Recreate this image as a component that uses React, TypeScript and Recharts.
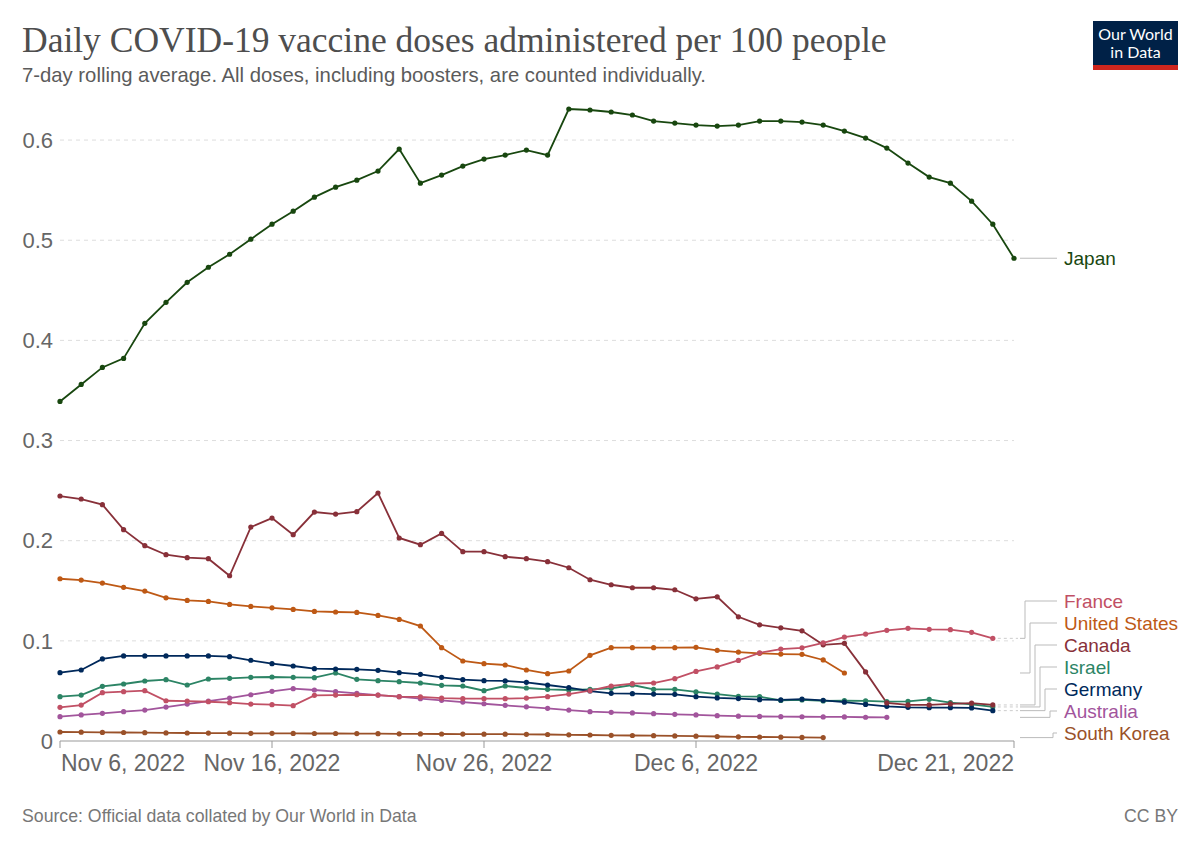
import React from 'react';
import { LineChart, Line, XAxis, YAxis, CartesianGrid } from 'recharts';

const W = 1200;
const H = 847;
const PLOT_RIGHT = 1014;

// days since Nov 6, 2022
const tickDays = [0, 10, 20, 30, 45];
const tickLabels = ['Nov 6, 2022', 'Nov 16, 2022', 'Nov 26, 2022', 'Dec 6, 2022', 'Dec 21, 2022'];
const yTicks = [0, 0.1, 0.2, 0.3, 0.4, 0.5, 0.6];
const gridValues = [0.1, 0.2, 0.3, 0.4, 0.5, 0.6];

const japan = [
  0.339, 0.356, 0.373, 0.382, 0.417, 0.438, 0.458, 0.473, 0.486, 0.501,
  0.516, 0.529, 0.543, 0.553, 0.56, 0.569, 0.591, 0.557, 0.565, 0.574,
  0.581, 0.585, 0.59, 0.585, 0.631, 0.63, 0.628, 0.625, 0.619, 0.617,
  0.615, 0.614, 0.615, 0.619, 0.619, 0.618, 0.615, 0.609, 0.602, 0.592,
  0.577, 0.563, 0.557, 0.539, 0.516, 0.482,
];
const canada = [
  0.2446, 0.2416, 0.236, 0.211, 0.195, 0.186, 0.183, 0.182, 0.165, 0.2136,
  0.2226, 0.206, 0.2286, 0.2266, 0.229, 0.2476, 0.2027, 0.196, 0.2073, 0.189,
  0.189, 0.184, 0.182, 0.179, 0.173, 0.161, 0.156, 0.153, 0.153, 0.151,
  0.142, 0.144, 0.124, 0.116, 0.113, 0.11, 0.096, 0.0975, 0.069, 0.038,
  0.036, 0.036, 0.037, 0.0378, 0.036,
];
const unitedStates = [
  0.162, 0.1607, 0.1577, 0.1534, 0.1497, 0.143, 0.1404, 0.1394, 0.1364, 0.1344,
  0.133, 0.1314, 0.1294, 0.1288, 0.1284, 0.1254, 0.1214, 0.1148, 0.0932, 0.0799,
  0.0772, 0.0759, 0.0709, 0.0672, 0.0699, 0.0855, 0.0932, 0.0932, 0.0932, 0.0932,
  0.0935, 0.0905, 0.0888, 0.0875, 0.0868, 0.0865, 0.0809, 0.0679,
];
const france = [
  0.0336, 0.0359, 0.0482, 0.0492, 0.0502, 0.0402, 0.0399, 0.0392, 0.0383, 0.0369,
  0.0363, 0.0353, 0.0456, 0.0459, 0.0462, 0.0459, 0.0443, 0.044, 0.0429, 0.0423,
  0.0423, 0.0423, 0.0429, 0.0443, 0.0469, 0.0502, 0.0549, 0.0572, 0.0579, 0.0622,
  0.0695, 0.074, 0.0804, 0.088, 0.0918, 0.093, 0.098, 0.1038, 0.1068, 0.1105,
  0.1125, 0.1115, 0.1112, 0.1085, 0.1025,
];
const israel = [
  0.0443, 0.0459, 0.0546, 0.0569, 0.0599, 0.0612, 0.0559, 0.0619, 0.0626, 0.0636,
  0.0639, 0.0636, 0.0632, 0.0679, 0.0616, 0.0602, 0.0592, 0.0579, 0.0556, 0.0549,
  0.0502, 0.0549, 0.0529, 0.0516, 0.0509, 0.0516, 0.0526, 0.0559, 0.0516, 0.0516,
  0.049, 0.0469, 0.0446, 0.0443, 0.0405, 0.041, 0.04, 0.0403, 0.04, 0.0393,
  0.0396, 0.0416, 0.0383, 0.0365, 0.034,
];
const germany = [
  0.0682, 0.0709, 0.0819, 0.0849, 0.0849, 0.0849, 0.0849, 0.0849, 0.0842, 0.0806,
  0.0772, 0.0749, 0.0722, 0.0719, 0.0716, 0.0706, 0.0682, 0.0666, 0.0636, 0.0612,
  0.0602, 0.06, 0.0586, 0.0559, 0.0532, 0.0499, 0.0476, 0.0473, 0.0469, 0.0466,
  0.0443, 0.043, 0.0424, 0.0413, 0.041, 0.0418, 0.0406, 0.0388, 0.0365, 0.0346,
  0.0336, 0.0333, 0.0333, 0.033, 0.0303,
];
const australia = [
  0.0243, 0.026, 0.0276, 0.0293, 0.0309, 0.0339, 0.0369, 0.0399, 0.0429, 0.0462,
  0.0496, 0.0522, 0.0509, 0.0492, 0.0476, 0.0459, 0.0443, 0.0423, 0.0406, 0.0389,
  0.0372, 0.0356, 0.0341, 0.0326, 0.0309, 0.0293, 0.0286, 0.028, 0.0273, 0.0266,
  0.026, 0.0253, 0.0248, 0.0245, 0.0243, 0.0242, 0.024, 0.024, 0.0237, 0.0236,
];
const southKorea = [
  0.009, 0.0088, 0.0086, 0.0085, 0.0083, 0.0081, 0.008, 0.0079, 0.0078, 0.0077,
  0.0077, 0.0076, 0.0075, 0.0075, 0.0074, 0.0073, 0.0072, 0.0071, 0.007, 0.0069,
  0.0068, 0.0068, 0.0067, 0.0065, 0.0062, 0.006, 0.0057, 0.0055, 0.0053, 0.0051,
  0.0048, 0.0045, 0.0042, 0.004, 0.0038, 0.0036, 0.0034,
];

// drawn bottom to top
const series = [
  { key: 'southKorea', name: 'South Korea', color: '#9A5129', values: southKorea },
  { key: 'australia', name: 'Australia', color: '#A2559C', values: australia },
  { key: 'israel', name: 'Israel', color: '#2C8465', values: israel },
  { key: 'germany', name: 'Germany', color: '#00295B', values: germany },
  { key: 'canada', name: 'Canada', color: '#883039', values: canada },
  { key: 'unitedStates', name: 'United States', color: '#BE5915', values: unitedStates },
  { key: 'france', name: 'France', color: '#C15065', values: france },
  { key: 'japan', name: 'Japan', color: '#18470F', values: japan },
];

// where the end labels of the crowded group sit
const labelSlots = {
  france: { y: 601, elbow: 11 },
  unitedStates: { y: 623, elbow: 16 },
  canada: { y: 645, elbow: 21 },
  israel: { y: 667, elbow: 26 },
  germany: { y: 689, elbow: 31 },
  australia: { y: 711, elbow: 36 },
  southKorea: { y: 733, elbow: 39 },
};

const rows = japan.map((_, i) => {
  const row = { i };
  series.forEach(s => {
    row[s.key] = i < s.values.length ? s.values[i] : null;
  });
  return row;
});

const XTick = (props) => {
  const { x, y, payload } = props;
  const v = payload.value;
  const anchor = v === 0 ? 'start' : v === 45 ? 'end' : 'middle';
  const label = tickLabels[tickDays.indexOf(v)];
  return (
    <text x={v === 0 ? x + 1 : x} y={y} dy={21} textAnchor={anchor} fill="#666" fontSize={23}>
      {label}
    </text>
  );
};

function endLabel(s, cx, cy) {
  const slot = labelSlots[s.key];
  if (!slot) {
    return (
      <g>
        <line x1={PLOT_RIGHT + 6} x2={PLOT_RIGHT + 43} y1={cy} y2={cy} stroke="#bbb" />
        <text x={PLOT_RIGHT + 50} y={cy} dy="0.35em" fill={s.color} fontSize={19}>{s.name}</text>
      </g>
    );
  }
  const trail = s.values.length === 45;
  return (
    <g>
      {trail && (
        <line x1={cx + 5} x2={PLOT_RIGHT + 4} y1={cy} y2={cy} stroke="#ccc" strokeDasharray="3 3" />
      )}
      <path
        d={`M${PLOT_RIGHT + 6},${cy}H${PLOT_RIGHT + slot.elbow}V${slot.y}H${PLOT_RIGHT + 43}`}
        fill="none"
        stroke="#bbb"
      />
      <text x={PLOT_RIGHT + 50} y={slot.y} dy="0.35em" fill={s.color} fontSize={19}>{s.name}</text>
    </g>
  );
}

const makeDot = (s) => (props) => {
  const { cx, cy, index } = props;
  if (cx == null || cy == null || props.value == null) return <g key={`${s.key}-${index}`} />;
  return (
    <g key={`${s.key}-${index}`}>
      <circle cx={cx} cy={cy} r={2.6} fill={s.color} />
      {index === s.values.length - 1 && endLabel(s, cx, cy)}
    </g>
  );
};

export default function App() {
  return (
    <div
      style={{
        position: 'absolute',
        left: 0,
        top: 0,
        width: W,
        height: H,
        background: '#fff',
        fontFamily: '"Liberation Sans", Arial, sans-serif',
      }}
    >
      <svg width={W} height={H} style={{ position: 'absolute', left: 0, top: 0 }}>
        <text x={22} y={52} fill="#4e4e4e" fontSize={35.5} fontFamily='"Liberation Serif", "Times New Roman", serif'>
          Daily COVID-19 vaccine doses administered per 100 people
        </text>
        <text x={22} y={82} fill="#5b5b5b" fontSize={20.3}>
          7-day rolling average. All doses, including boosters, are counted individually.
        </text>
        <rect x={1093} y={21} width={85} height={49} fill="#002147" />
        <rect x={1093} y={65} width={85} height={5} fill="#CE261E" />
        <text x={1135.5} y={39.5} textAnchor="middle" fill="#fff" fontSize={16} fontFamily="Lato, sans-serif">Our World</text>
        <text x={1135.5} y={58} textAnchor="middle" fill="#fff" fontSize={16} fontFamily="Lato, sans-serif">in Data</text>
        <text x={22} y={822} fill="#777" fontSize={17.7}>Source: Official data collated by Our World in Data</text>
        <text x={1178} y={822} fill="#777" fontSize={17.7} textAnchor="end">CC BY</text>
      </svg>
      <div style={{ position: 'absolute', left: 0, top: 0 }}>
        <LineChart width={W} height={H} data={rows} margin={{ top: 100, right: 186, bottom: 76, left: 0 }}>
          <CartesianGrid vertical={false} stroke="#ddd" strokeDasharray="4 4" horizontalValues={gridValues} />
          <XAxis
            type="number"
            dataKey="i"
            domain={[0, 45]}
            ticks={tickDays}
            interval={0}
            height={30}
            tickSize={7}
            tick={XTick}
            axisLine={{ stroke: '#999' }}
            tickLine={{ stroke: '#999' }}
          />
          <YAxis
            domain={[0, 0.64]}
            ticks={yTicks}
            width={60}
            axisLine={false}
            tickLine={false}
            tickSize={0}
            tickMargin={7}
            tick={{ fill: '#666', fontSize: 22 }}
            tickFormatter={(v) => (v === 0 ? '0' : v.toFixed(1))}
          />
          {series.map(s => (
            <Line
              key={s.key}
              type="linear"
              dataKey={s.key}
              stroke={s.color}
              strokeWidth={1.8}
              dot={makeDot(s)}
              activeDot={false}
              isAnimationActive={false}
            />
          ))}
        </LineChart>
      </div>
    </div>
  );
}
